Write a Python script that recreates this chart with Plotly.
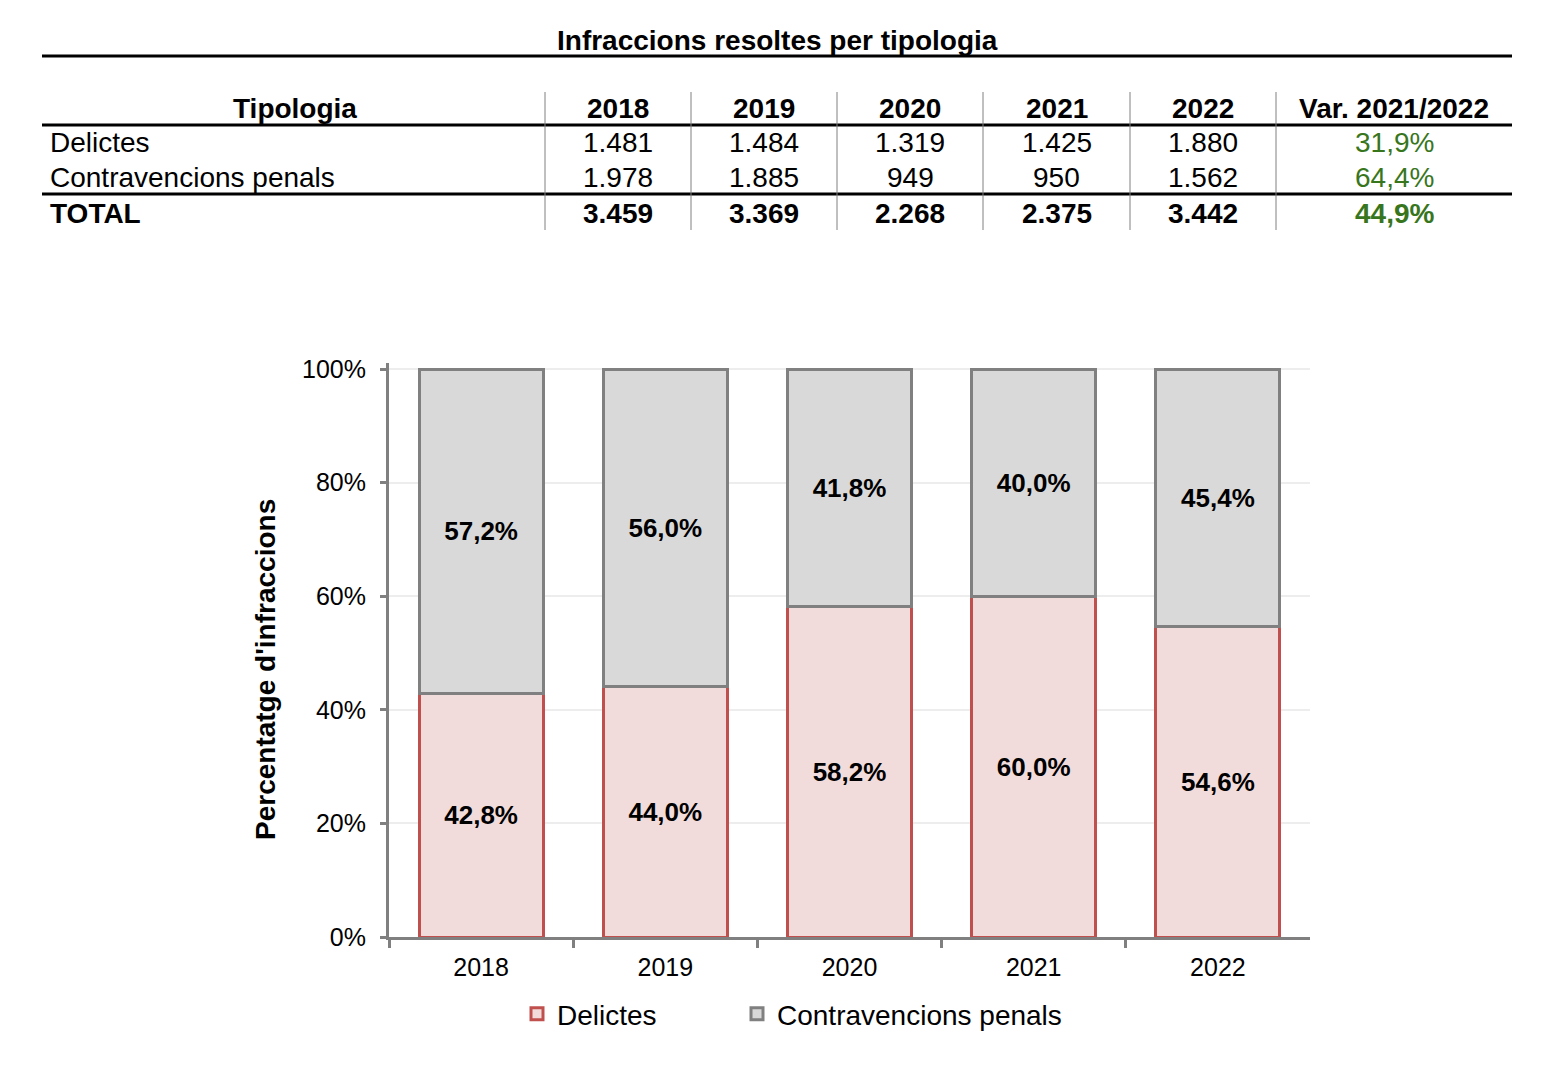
import plotly.graph_objects as go

years = ["2018", "2019", "2020", "2021", "2022"]
delictes = [1481, 1484, 1319, 1425, 1880]
contravencions = [1978, 1885, 949, 950, 1562]
row_names = ["Delictes", "Contravencions penals", "TOTAL"]
table_title = "Infraccions resoltes per tipologia"
header_first = "Tipologia"
header_var = "Var. 2021/2022"
y_title = "Percentatge d'infraccions"
y_ticks = [0, 20, 40, 60, 80, 100]

W, H = 1561, 1067
OFF = 8  # page body margin
FONT = "Liberation Sans, Arial, sans-serif"
GREEN = "#38761D"

totals = [a + b for a, b in zip(delictes, contravencions)]
pct_del = [a / t * 100 for a, t in zip(delictes, totals)]
pct_con = [b / t * 100 for b, t in zip(contravencions, totals)]


def thousands(v):
    return f"{v:,}".replace(",", ".")


def pct(v):
    return f"{v:.1f}%".replace(".", ",")


def var(a, b):
    return pct((b / a - 1) * 100)


def px(x):
    return (x - OFF) / W


def py(y):
    return 1 - (y - OFF) / H


fig = go.Figure()
fig.add_trace(go.Bar(
    x=years, y=pct_del, name="Delictes", legend="legend",
    marker=dict(color="#F2DCDB", line=dict(color="#C0504D", width=3)),
    text=[pct(v) for v in pct_del], textposition="inside", insidetextanchor="middle",
    textangle=0, textfont=dict(size=26, color="black", family=FONT, weight="bold"),
    hoverinfo="skip",
))
fig.add_trace(go.Bar(
    x=years, y=pct_con, name="Contravencions penals", legend="legend2",
    marker=dict(color="#D9D9D9", line=dict(color="#808080", width=3)),
    text=[pct(v) for v in pct_con], textposition="inside", insidetextanchor="middle",
    textangle=0, textfont=dict(size=26, color="black", family=FONT, weight="bold"),
    hoverinfo="skip",
))

# plot area geometry (pixels)
x0, x1 = 389, 1310
y100, y0 = 369, 937
top_extra = 1.0
ytop_px = y100 - (y0 - y100) * top_extra / 100

annotations = []
shapes = []


def ann(x, y, text, size=28, color="black", anchor="center", angle=0):
    annotations.append(dict(xref="paper", yref="paper", x=px(x), y=py(y), text=text, showarrow=False,
                            textangle=angle, font=dict(size=size, family=FONT, color=color),
                            xanchor=anchor, yanchor="middle"))


# table title
ann(777, 40, f"<b>{table_title}</b>")
# horizontal lines
for yy in [56, 125, 194]:
    shapes.append(dict(type="line", xref="paper", yref="paper", x0=px(42), x1=px(1512),
                       y0=py(yy), y1=py(yy), line=dict(color="black", width=3)))
# vertical separators
col_edges = [545, 691, 837, 983, 1130, 1276]
for xx in col_edges:
    shapes.append(dict(type="line", xref="paper", yref="paper", x0=px(xx), x1=px(xx),
                       y0=py(92), y1=py(230), line=dict(color="#808080", width=1)))

col_centers = [(col_edges[i] + col_edges[i + 1]) / 2 for i in range(5)]
var_center = (1276 + 1512) / 2
row_y = [109, 143, 178, 213]

# header
ann(295, row_y[0], f"<b>{header_first}</b>")
for c, yr in zip(col_centers, years):
    ann(c, row_y[0], f"<b>{yr}</b>")
ann(var_center, row_y[0], f"<b>{header_var}</b>")

rows = [delictes, contravencions, totals]
for r, (name, vals) in enumerate(zip(row_names, rows)):
    bold = r == 2
    yy = row_y[r + 1]

    def fmt(s):
        return f"<b>{s}</b>" if bold else s
    ann(48, yy, fmt(name), anchor="left")
    for c, v in zip(col_centers, vals):
        ann(c, yy, fmt(thousands(v)))
    ann(var_center, yy, fmt(var(vals[3], vals[4])), color=GREEN)

# y axis title
ann(265, 670, f"<b>{y_title}</b>", size=28, angle=-90)

legend_common = dict(orientation="h", yanchor="middle", xanchor="left",
                     font=dict(size=28, family=FONT, color="black"), itemwidth=30,
                     bgcolor="rgba(0,0,0,0)")

fig.update_layout(
    width=W, height=H,
    margin=dict(l=0, r=0, t=0, b=0, autoexpand=False),
    paper_bgcolor="white", plot_bgcolor="white",
    barmode="stack", bargap=0.327,
    font=dict(family=FONT, color="black"),
    showlegend=True,
    legend=dict(x=px(517), y=py(1014), **legend_common),
    legend2=dict(x=px(737), y=py(1014), **legend_common),
    xaxis=dict(domain=[px(x0), px(x1)], showline=True, linecolor="#808080", linewidth=3,
               ticks="outside", tickson="boundaries", ticklen=8, tickwidth=3, tickcolor="#808080",
               tickfont=dict(size=25, family=FONT, color="black"), showgrid=False, fixedrange=True,
               automargin=False, ticklabelstandoff=6),
    yaxis=dict(domain=[py(y0), py(ytop_px)], range=[0, 100 + top_extra], tickvals=y_ticks,
               ticktext=[f"{t}%" for t in y_ticks], showline=True, linecolor="#808080", linewidth=3,
               ticks="outside", ticklen=6, tickwidth=3, tickcolor="#808080",
               tickfont=dict(size=25, family=FONT, color="black"), showgrid=True, gridcolor="#EDEDED",
               gridwidth=1.5, zeroline=False, fixedrange=True, automargin=False, ticklabelstandoff=9),
    annotations=annotations,
    shapes=shapes,
)

fig.write_html("out.html")
